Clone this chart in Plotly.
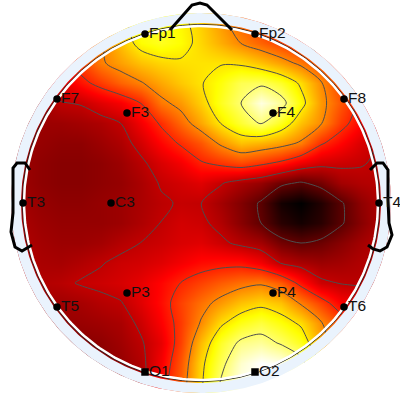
import numpy as np
import plotly.graph_objects as go

grid_x = [21,41,61,81,101,121,141,161,181,201,221,241,261,281,301,321,341,361,381]
grid_y = [23,43,63,83,103,123,143,163,183,203,223,243,263,283,303,323,343,363,383]
potential = [
 [30,35,40,50,58,68,78,78,74,68,60,52,45,40,36,32,30,28,26],
 [30,36,42,50,56,66,75,78,75,69,63,57,52,47,42,37,33,30,28],
 [32,36,40,47,56,61,66,69,70.5,71,71,70,66,61,55,48,40,34,30],
 [27,29,33,40,46,52,56.5,62,67,71,76,83,84,79,70,58,47,38,32],
 [22,24,28,29,33,36.5,43,55,60,68,78,86,97,90,75,60,50,40,33],
 [23,23,23,24,25.5,28.5,36,44,53,62,72,80,87,78,66,58,46,38,30],
 [23,22,21,21,23,25.5,31,38,44,50,59,66,64,61,56,44,38,32,28],
 [23,21,20,20,21,23,27,32,36,42,45,48,45,41,35,31,30,29,27],
 [23,21,20,20,21,22,25,29,31,33,29,25,22,16,13,17,24,26,27],
 [24,22,21,21,22,23,25,27.5,29,28.5,24,19,13,3,0,5,13,21,26],
 [25,23,22,22,22,23,25.5,28.5,31,30,26,20,14,6,3,6,13,20,26],
 [26,24,23,23,24,26.5,28.5,30,32,33,30,26.5,24,17,14,16,20,24,27],
 [27,25,24.5,26,28,30,31,33,36,39,40,40,36,28,25,23,24,26,27],
 [27,26,27,29,30,31.5,34,38,43,47,51,54,56,51,40,30,28,27,27],
 [26,24,23.5,24.5,26.5,28,33,39,47,54,60,66,69,66,56,47,37,35,30],
 [25,23,22,22.5,23.5,25,30,37,46,58,70,77,81,76,70,58,48,40,33],
 [24,21,20,20,21,23.5,27.5,34,47,65,79,88,90,85,78,62,50,40,33],
 [24,21,20,20,20,22,26,36,50,69,83,95,100,98,90,70,55,43,35],
 [24,21,20,20,20,22,25,38,52,70,87,98,100,100,95,75,58,45,36],
]

channels = ["Fp1","Fp2","F7","F3","F4","F8","T3","C3","T4","T5","P3","P4","T6","O1","O2"]
channel_x = [145,255,57,127,273,344,23,111,379,57,127,273,344,145,255]
channel_y = [34,34,99,113,113,99,203,203,203,307,293,293,307,372,372]
channel_symbol = ["circle"]*13 + ["square","square"]

nose_x = [170,192,200,207,232]
nose_y = [30,5,3,5,30]
left_ear_x = [30,25,17,13,13,13,11,15,22,32]
left_ear_y = [170,163,163,168,193,213,232,247,251,245]
right_ear_x = [370,377,383,388,388,389,392,387,380,373,368]
right_ear_y = [170,163,163,170,200,223,235,247,251,249,245]

hot = [[0,"#000000"],[0.375,"#ff0000"],[0.75,"#ffff00"],[1,"#ffffff"]]
CX, CY = 201, 203
LABEL_GAP = 4

def circle(r, reverse=False):
    t = np.linspace(0, 2*np.pi, 361)
    if reverse:
        t = t[::-1]
    return CX + r*np.cos(t), CY + r*np.sin(t)

def hole(outer_x, outer_y, r):
    hx, hy = circle(r, reverse=True)
    return list(outer_x)+[None]+list(hx), list(outer_y)+[None]+list(hy)

fig = go.Figure()
fig.add_trace(go.Heatmap(x=grid_x, y=grid_y, z=potential, colorscale=hot, zmin=0, zmax=100,
                         zsmooth="best", showscale=False, hoverinfo="skip"))
fig.add_trace(go.Contour(x=grid_x, y=grid_y, z=potential, autocontour=False,
                         contours=dict(start=14, end=86, size=14.4, coloring="none"),
                         line=dict(color="#4d4d4d", width=1, smoothing=0.8),
                         showscale=False, hoverinfo="skip"))
mx, my = hole([0,400,400,0,0],[0,0,400,400,0],190)
fig.add_trace(go.Scatter(x=mx,y=my,mode="lines",fill="toself",fillcolor="#ffffff",line=dict(width=0),hoverinfo="skip"))
ox, oy = circle(190)
ax, ay = hole(ox, oy, 180)
fig.add_trace(go.Scatter(x=ax,y=ay,mode="lines",fill="toself",fillcolor="#eaf3fd",line=dict(width=0),hoverinfo="skip"))
hx, hy = circle(178.5)
fig.add_trace(go.Scatter(x=hx,y=hy,mode="lines",line=dict(color="#222222",width=1),hoverinfo="skip"))
hx, hy = circle(177)
fig.add_trace(go.Scatter(x=hx,y=hy,mode="lines",line=dict(color="#ffffff",width=2.5),hoverinfo="skip"))
for px, py in [(nose_x,nose_y),(left_ear_x,left_ear_y),(right_ear_x,right_ear_y)]:
    fig.add_trace(go.Scatter(x=px,y=py,mode="lines",line=dict(color="#000000",width=3),hoverinfo="skip"))
fig.add_trace(go.Scatter(x=channel_x,y=channel_y,mode="markers",
                         marker=dict(color="#000000",size=7.5,symbol=channel_symbol),hoverinfo="skip"))
fig.add_trace(go.Scatter(x=[v+LABEL_GAP for v in channel_x],y=channel_y,text=channels,mode="text",textposition="middle right",
                         textfont=dict(family="Liberation Sans, Arial, sans-serif",size=15.5,color="#111111"),hoverinfo="skip"))
fig.update_layout(width=400,height=400,margin=dict(l=0,r=0,t=0,b=0),showlegend=False,
                  paper_bgcolor="#ffffff",plot_bgcolor="#ffffff",
                  xaxis=dict(range=[0,400],visible=False,fixedrange=True),
                  yaxis=dict(range=[400,0],visible=False,fixedrange=True))
fig.write_html("out.html", config={"displayModeBar":False},
               post_script="document.body.style.margin='0';")
